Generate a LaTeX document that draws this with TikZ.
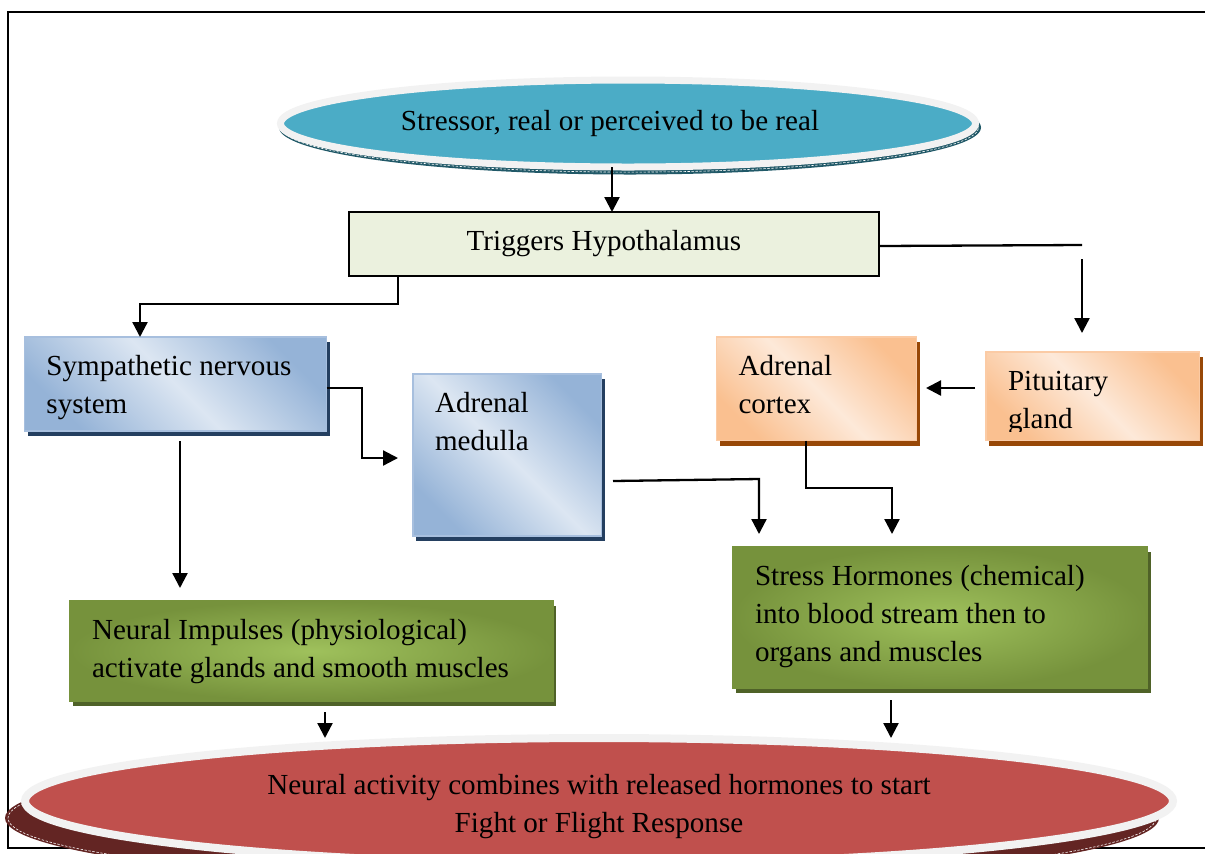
\documentclass[tikz,border=0pt]{standalone}
\usepackage{fontspec}
\setmainfont{Liberation Serif}
\usetikzlibrary{shapes.geometric,shadows,arrows.meta,calc}
\definecolor{tealF}{HTML}{4BACC6}
\definecolor{tealS}{HTML}{215968}
\definecolor{ringG}{HTML}{F2F2F2}
\definecolor{hypF}{HTML}{EBF1DE}
\definecolor{blueD}{HTML}{95B3D7}
\definecolor{blueL}{HTML}{DCE6F2}
\definecolor{blueE}{HTML}{A7BFDE}
\definecolor{blueS}{HTML}{243F60}
\definecolor{orD}{HTML}{FAC090}
\definecolor{orL}{HTML}{FDE9D9}
\definecolor{orE}{HTML}{FBCBA5}
\definecolor{orS}{HTML}{984807}
\definecolor{grL}{HTML}{9FC15C}
\definecolor{grD}{HTML}{76923C}
\definecolor{grS}{HTML}{4F6228}
\definecolor{redF}{HTML}{C0504D}
\definecolor{redS}{HTML}{632523}
\newcommand\bxt[3]{\parbox[c][#2][t]{#1}{\raggedright\strut #3}}
\begin{document}
\begin{tikzpicture}[x=0.5pt,y=-0.5pt,
  fnt/.style={font=\fontsize{14.55}{19}\selectfont},
  conn/.style={line width=1.15pt},
  arr/.style={conn,-{Triangle[length=7.5pt,width=7.5pt]}},
  boxbase/.style={fnt, rectangle, anchor=north west, inner xsep=11pt, inner ysep=5.7pt, outer sep=0pt, line width=0.8pt},
  bluebox/.style={boxbase, draw=blueE, top color=blueD, bottom color=blueD, middle color=blueL, shading angle=-45,
     drop shadow={shadow xshift=1.5pt, shadow yshift=-2.5pt, fill=blueS, opacity=1}},
  orangebox/.style={boxbase, draw=orE, top color=orD, bottom color=orD, middle color=orL, shading angle=-45,
     drop shadow={shadow xshift=1.5pt, shadow yshift=-2.5pt, fill=orS, opacity=1}},
  greenbox/.style={boxbase, draw=grD, inner color=grL, outer color=grD,
     drop shadow={shadow xshift=1.5pt, shadow yshift=-2.5pt, fill=grS, opacity=1}},
  shdash/.style={white, line width=0.3pt, dash pattern=on 1.2pt off 0.8pt}
]
\useasboundingbox (0,0) rectangle (1205,853);

% frame
\draw[line width=1pt] (1205,12) -- (8,12) -- (8,848) -- (1205,848);

% top ellipse
\fill[tealS] (630,127.5) ellipse [x radius=175.5pt, y radius=23.5pt];
\draw[shdash] (630,127.5) ellipse [x radius=174.2pt, y radius=22.3pt];
\node[fnt, ellipse, draw=ringG, line width=3.5pt, fill=tealF, minimum width=347.5pt, minimum height=43.5pt, inner sep=0pt, outer sep=0pt]
  (stressor) at (628,123.5) {\hspace*{-18pt}Stressor, real or perceived to be real};

% hypothalamus
\node[fnt, rectangle, draw=black, line width=1pt, fill=hypF, minimum width=265pt, minimum height=32pt, inner sep=0pt, outer sep=0pt]
  (hyp) at (614,244) {\hspace*{-10pt}Triggers Hypothalamus};

% blue boxes
\node[bluebox] (symp) at (24.5,337) {\bxt{129pt}{35.6pt}{Sympathetic nervous\\system}};
\node[bluebox] (med) at (413,374) {\bxt{72.25pt}{69.6pt}{Adrenal\\medulla}};

% orange boxes
\node[orangebox] (cortex) at (716.5,337) {\bxt{78pt}{40.35pt}{Adrenal\\cortex}};
\node[orangebox, minimum width=106.75pt, minimum height=44.25pt] (pit) at (986,352) {};
\begin{scope}
  \clip (986,352) rectangle (1200,431);
  \node[boxbase] (pittxt) at (pit.north west) {\bxt{84.75pt}{32.85pt}{Pituitary\\gland}};
\end{scope}

% green boxes
\node[greenbox] (neural) at (70,601) {\bxt{219.5pt}{38.45pt}{Neural Impulses (physiological)\\activate glands and smooth muscles}};
\node[greenbox] (stress) at (733,547) {\bxt{185.25pt}{59.1pt}{Stress Hormones (chemical)\\into blood stream then to\\organs and muscles}};

% bottom ellipse
\fill[redS] (582,818) ellipse [x radius=288.5pt, y radius=33.5pt];
\draw[shdash] (582,818) ellipse [x radius=287pt, y radius=32pt];
\node[fnt, ellipse, draw=ringG, line width=4pt, fill=redF, minimum width=574pt, minimum height=63pt, inner sep=0pt, outer sep=0pt, align=center]
  (resp) at (599,801) {\rule{0pt}{16pt}Neural activity combines with released hormones to start\\Fight or Flight Response};

% coordinates
\coordinate (c1) at (612,167);
\coordinate (c2) at (1082,245);
\coordinate (c3) at (1082,259);
\coordinate (c4) at (1082,333);
\coordinate (c5) at (398,304);
\coordinate (c6) at (140,304);
\coordinate (c7) at (180,441);
\coordinate (c8) at (180,588);
\coordinate (c9) at (362,388);
\coordinate (c10) at (362,458);
\coordinate (c10b) at (398,458);
\coordinate (c11a) at (613,481);
\coordinate (c11) at (759,479);
\coordinate (c12) at (759,534);
\coordinate (c13) at (806,488);
\coordinate (c14) at (892,488);
\coordinate (c15) at (892,534);
\coordinate (c16) at (325,712);
\coordinate (c17) at (325,738);
\coordinate (c18) at (891,700);
\coordinate (c19) at (891,738);
\coordinate (c20) at (975,388);
\coordinate (c21) at (926,388);

% connectors
\draw[arr] (c1) -- (c1 |- hyp.north);
\draw[conn] ([yshift=-1pt]hyp.east) -- (c2);
\draw[arr] (c3) -- (c4);
\draw[arr] (hyp.south -| c5) -- (c5) -- (c6) -- (c6 |- symp.north);
\draw[arr] (c7) -- (c8);
\draw[arr] (symp.east |- c9) -- (c9) -- (c10) -- (c10b);
\draw[arr] (c11a) -- (c11) -- (c12);
\draw[arr] (cortex.south -| c13) -- (c13) -- (c14) -- (c15);
\draw[arr] (c20) -- (c21);
\draw[arr] (c16) -- (c17);
\draw[arr] (c18) -- (c19);
\end{tikzpicture}
\end{document}
